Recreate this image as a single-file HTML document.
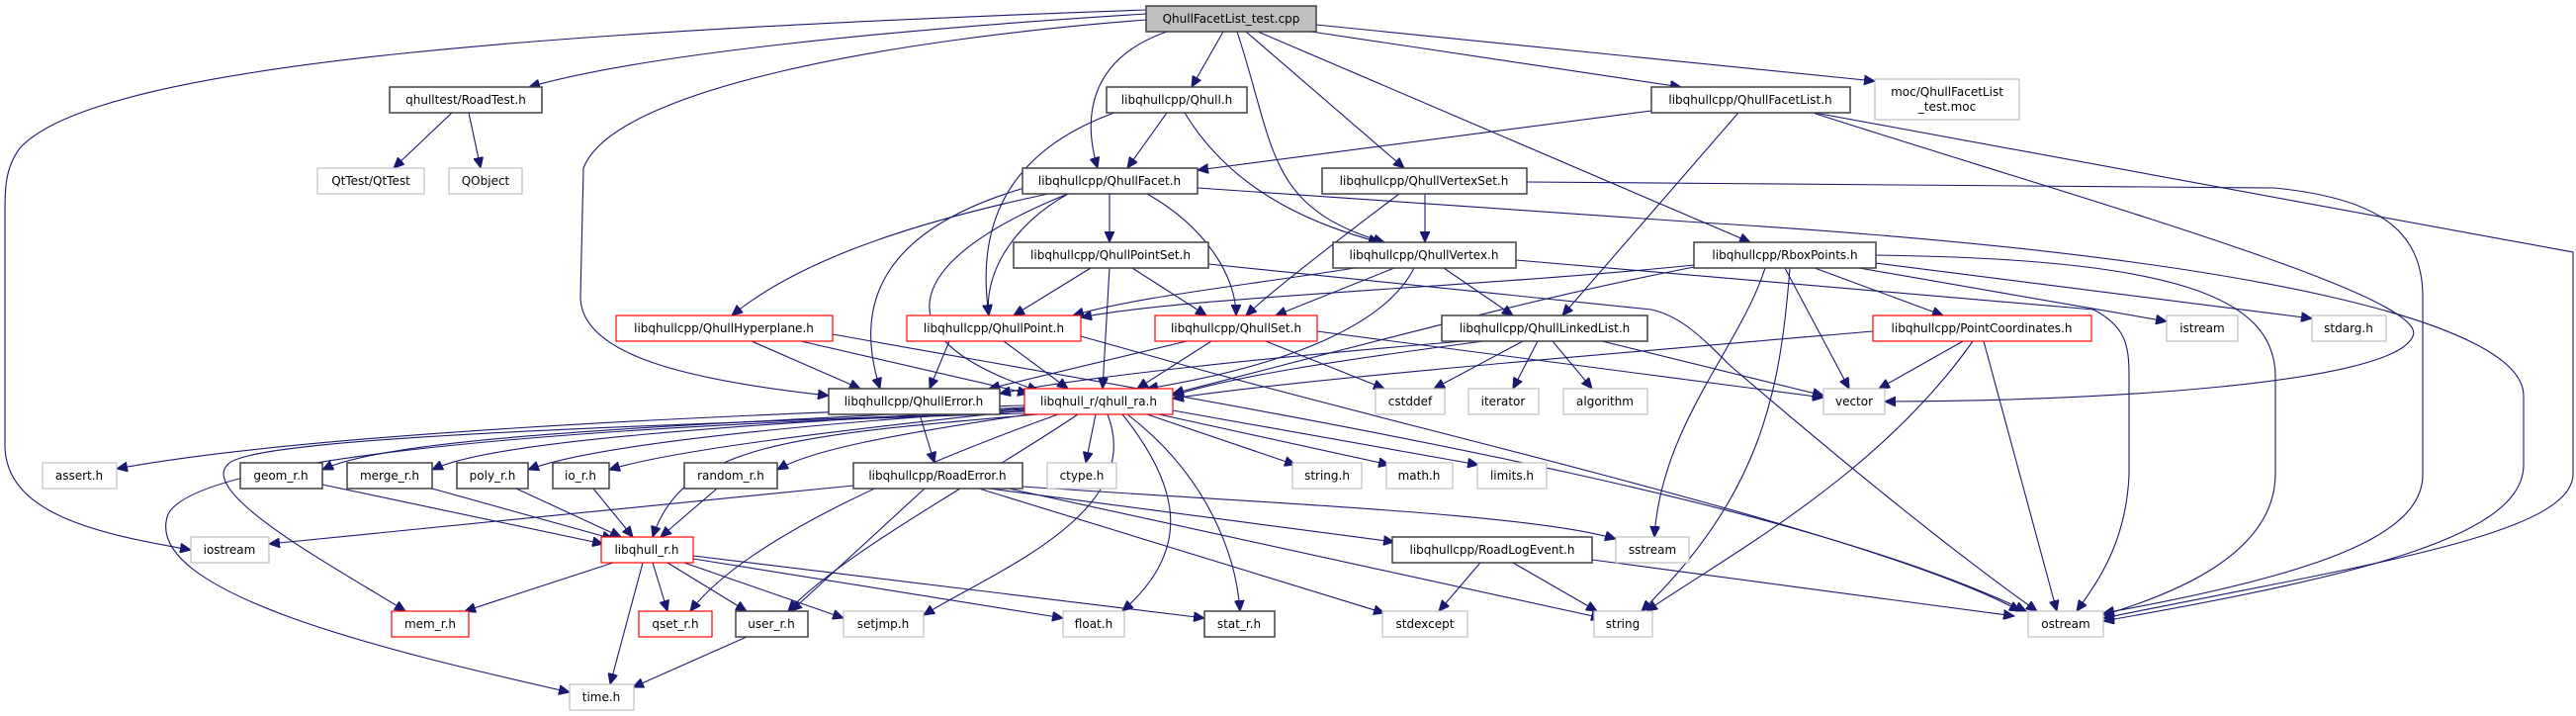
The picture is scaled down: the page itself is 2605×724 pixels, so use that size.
<!DOCTYPE html>
<html><head><meta charset="utf-8"><style>
html,body{margin:0;padding:0;background:#fff;}
svg{display:block;}
text{font-family:"DejaVu Sans","Liberation Sans",sans-serif;font-size:12px;fill:#000;}
.e{fill:none;stroke:#191970;stroke-width:1.1;}
.b{fill:#fff;stroke:#404040;stroke-width:1.5;}
.r{fill:#fff;stroke:#ff0000;stroke-width:1.2;}
.g{fill:#fff;stroke:#bfbfbf;stroke-width:1.2;}
</style></head><body>
<svg width="2605" height="724" viewBox="0 0 2605 724" xmlns="http://www.w3.org/2000/svg">
<defs><marker id="a" markerUnits="userSpaceOnUse" markerWidth="12" markerHeight="10" refX="11" refY="5" orient="auto"><path d="M0,0 L11,5 L0,10 z" fill="#191970" stroke="#191970"/></marker></defs>
<g class="e" marker-end="url(#a)">
<path d="M1159,14 C900,30 650,55 535,88"/>
<path d="M1159,10 C600,30 100,60 20,150 C5,170 5,190 5,220 L5,450 C5,520 100,540 193,556"/>
<path d="M1159,20 C900,40 620,90 590,170 L587,300 C587,360 700,385 838,400"/>
<path d="M1180,32 C1100,60 1095,120 1110,170"/>
<path d="M1237,32 L1205,88"/>
<path d="M1251,32 C1290,150 1280,210 1400,245"/>
<path d="M1260,32 L1420,170"/>
<path d="M1272,32 L1770,245"/>
<path d="M1326,32 L1700,88"/>
<path d="M1331,25 L1896,82"/>
<path d="M457,114 L398,170"/>
<path d="M474,114 L486,170"/>
<path d="M1833,114 C2100,200 2460,300 2440,340 C2420,390 2100,406 1906,406"/>
<path d="M1835,114 L2602,255 L2602,480 C2600,540 2400,570 2127,625"/>
<path d="M1670,112 L1211,172"/>
<path d="M1758,114 L1580,319"/>
<path d="M1180,114 L1140,170"/>
<path d="M1198,114 C1250,200 1340,230 1395,245"/>
<path d="M1127,114 C1000,160 990,250 1000,319"/>
<path d="M1441,196 L1441,245"/>
<path d="M1415,196 C1330,260 1280,300 1260,319"/>
<path d="M1544,184 L2300,190 C2400,200 2450,230 2450,300 L2450,480 C2450,540 2350,580 2127,620"/>
<path d="M1211,190 L1720,225 C2300,260 2552,330 2552,400 L2552,470 C2552,540 2400,580 2127,628"/>
<path d="M1897,258 C2200,262 2300,300 2301,380 L2301,480 C2300,560 2200,600 2127,622"/>
<path d="M1533,263 L2117,313 C2150,330 2153,350 2153,380 L2153,480 C2150,550 2120,590 2100,618"/>
<path d="M1222,267 L1670,313 C1700,320 1720,340 1750,370 C1820,430 1950,540 2060,618"/>
<path d="M1060,196 C900,230 800,270 740,319"/>
<path d="M1122,196 L1122,245"/>
<path d="M1080,196 C1020,230 995,280 1000,319"/>
<path d="M1160,196 C1220,230 1250,280 1250,319"/>
<path d="M1080,196 C920,260 880,340 1050,395"/>
<path d="M1036,190 C900,230 860,300 890,393"/>
<path d="M1103,271 L1025,319"/>
<path d="M1145,271 L1220,319"/>
<path d="M1122,271 L1115,393"/>
<path d="M1370,271 C1250,290 1150,300 1085,319"/>
<path d="M1410,271 L1290,319"/>
<path d="M1460,271 L1530,319"/>
<path d="M1430,271 C1400,330 1300,370 1160,393"/>
<path d="M1713,268 C1500,290 1200,300 1093,321"/>
<path d="M1713,270 C1560,300 1450,330 1186,398"/>
<path d="M1835,271 L1965,319"/>
<path d="M1880,271 L2191,325"/>
<path d="M1897,266 L2338,322"/>
<path d="M1805,271 L1870,393"/>
<path d="M1785,271 C1760,350 1680,430 1673,543"/>
<path d="M1810,271 C1800,400 1780,500 1660,618"/>
<path d="M760,345 L870,393"/>
<path d="M810,345 L1040,398"/>
<path d="M842,338 C1300,420 1800,500 2049,618"/>
<path d="M960,345 L940,393"/>
<path d="M1015,345 L1080,393"/>
<path d="M1093,340 L1200,370 C1450,440 1900,540 2043,618"/>
<path d="M1200,345 L1000,393"/>
<path d="M1225,345 L1150,393"/>
<path d="M1280,345 L1400,393"/>
<path d="M1332,335 L1844,402"/>
<path d="M1480,345 C1300,360 1100,380 1011,398"/>
<path d="M1500,345 C1350,365 1250,380 1186,400"/>
<path d="M1540,345 L1450,393"/>
<path d="M1555,345 L1530,393"/>
<path d="M1570,345 L1610,393"/>
<path d="M1620,345 L1844,400"/>
<path d="M1894,335 C1600,360 1300,385 1186,403"/>
<path d="M1985,345 L1900,393"/>
<path d="M1995,345 C1900,480 1750,560 1665,618"/>
<path d="M2006,345 L2080,618"/>
<path d="M930,419 L945,468"/>
<path d="M1036,410 C700,420 300,440 118,474"/>
<path d="M1036,412 C700,430 400,440 326,475"/>
<path d="M1036,413 C750,430 500,445 437,475"/>
<path d="M1036,414 C800,430 600,450 534,475"/>
<path d="M1036,415 C850,435 680,455 616,475"/>
<path d="M1040,419 C900,440 820,455 786,475"/>
<path d="M1050,419 C800,440 690,450 660,543"/>
<path d="M1036,416 C700,430 250,440 230,470 C200,500 350,580 410,618"/>
<path d="M1036,418 C600,430 200,460 170,520 C140,600 400,660 576,700"/>
<path d="M1070,419 C900,480 750,550 698,618"/>
<path d="M1090,419 C1000,480 850,560 797,618"/>
<path d="M1108,419 L1098,468"/>
<path d="M1120,419 C1160,520 1000,580 934,622"/>
<path d="M1135,419 C1200,500 1200,560 1135,618"/>
<path d="M1140,419 C1220,480 1250,560 1254,618"/>
<path d="M1160,419 L1310,470"/>
<path d="M1172,419 L1405,470"/>
<path d="M1186,415 L1495,470"/>
<path d="M863,491 L272,550"/>
<path d="M935,494 L800,618"/>
<path d="M1000,494 L1410,548"/>
<path d="M1034,492 C1300,510 1550,520 1634,545"/>
<path d="M990,494 L1400,620"/>
<path d="M1020,494 L1620,625"/>
<path d="M1497,569 L1455,618"/>
<path d="M1530,569 L1615,618"/>
<path d="M1610,566 L2037,623"/>
<path d="M326,490 L610,550"/>
<path d="M437,494 L620,545"/>
<path d="M522,494 L628,543"/>
<path d="M600,494 L640,543"/>
<path d="M725,494 L668,543"/>
<path d="M620,569 L470,618"/>
<path d="M660,569 L675,618"/>
<path d="M675,569 L755,618"/>
<path d="M650,569 L617,692"/>
<path d="M692,569 L853,625"/>
<path d="M701,565 L1075,625"/>
<path d="M701,562 L1218,625"/>
<path d="M755,644 L640,695"/>
</g>
<g>
<rect x="1159" y="6" width="172" height="26" fill="#bfbfbf" stroke="#404040" stroke-width="1.5"/><text x="1245" y="23" text-anchor="middle">QhullFacetList_test.cpp</text>
<rect class="b" x="394" y="88" width="154" height="26"/><text x="471" y="105" text-anchor="middle">qhulltest/RoadTest.h</text>
<rect class="g" x="321" y="170" width="108" height="26"/><text x="375" y="187" text-anchor="middle">QtTest/QtTest</text>
<rect class="g" x="454" y="170" width="74" height="26"/><text x="491" y="187" text-anchor="middle">QObject</text>
<rect class="b" x="1119" y="88" width="142" height="26"/><text x="1190" y="105" text-anchor="middle">libqhullcpp/Qhull.h</text>
<rect class="b" x="1670" y="88" width="201" height="26"/><text x="1770" y="105" text-anchor="middle">libqhullcpp/QhullFacetList.h</text>
<rect class="g" x="1896" y="80" width="146" height="41"/><text x="1969" y="97" text-anchor="middle">moc/QhullFacetList</text><text x="1969" y="112" text-anchor="middle">_test.moc</text>
<rect class="b" x="1034" y="170" width="177" height="26"/><text x="1122" y="187" text-anchor="middle">libqhullcpp/QhullFacet.h</text>
<rect class="b" x="1337" y="170" width="207" height="26"/><text x="1440" y="187" text-anchor="middle">libqhullcpp/QhullVertexSet.h</text>
<rect class="b" x="1025" y="245" width="197" height="26"/><text x="1123" y="262" text-anchor="middle">libqhullcpp/QhullPointSet.h</text>
<rect class="b" x="1348" y="245" width="185" height="26"/><text x="1440" y="262" text-anchor="middle">libqhullcpp/QhullVertex.h</text>
<rect class="b" x="1713" y="245" width="184" height="26"/><text x="1805" y="262" text-anchor="middle">libqhullcpp/RboxPoints.h</text>
<rect class="r" x="623" y="319" width="219" height="26"/><text x="732" y="336" text-anchor="middle">libqhullcpp/QhullHyperplane.h</text>
<rect class="r" x="917" y="319" width="176" height="26"/><text x="1005" y="336" text-anchor="middle">libqhullcpp/QhullPoint.h</text>
<rect class="r" x="1168" y="319" width="164" height="26"/><text x="1250" y="336" text-anchor="middle">libqhullcpp/QhullSet.h</text>
<rect class="b" x="1458" y="319" width="208" height="26"/><text x="1562" y="336" text-anchor="middle">libqhullcpp/QhullLinkedList.h</text>
<rect class="r" x="1894" y="319" width="221" height="26"/><text x="2004" y="336" text-anchor="middle">libqhullcpp/PointCoordinates.h</text>
<rect class="g" x="2191" y="319" width="72" height="26"/><text x="2227" y="336" text-anchor="middle">istream</text>
<rect class="g" x="2338" y="319" width="75" height="26"/><text x="2375" y="336" text-anchor="middle">stdarg.h</text>
<rect class="b" x="838" y="393" width="173" height="26"/><text x="924" y="410" text-anchor="middle">libqhullcpp/QhullError.h</text>
<rect class="r" x="1036" y="393" width="150" height="26"/><text x="1111" y="410" text-anchor="middle">libqhull_r/qhull_ra.h</text>
<rect class="g" x="1391" y="393" width="70" height="26"/><text x="1426" y="410" text-anchor="middle">cstddef</text>
<rect class="g" x="1485" y="393" width="71" height="26"/><text x="1520" y="410" text-anchor="middle">iterator</text>
<rect class="g" x="1581" y="393" width="85" height="26"/><text x="1623" y="410" text-anchor="middle">algorithm</text>
<rect class="g" x="1844" y="393" width="62" height="26"/><text x="1875" y="410" text-anchor="middle">vector</text>
<rect class="g" x="43" y="468" width="75" height="26"/><text x="80" y="485" text-anchor="middle">assert.h</text>
<rect class="b" x="243" y="468" width="83" height="26"/><text x="284" y="485" text-anchor="middle">geom_r.h</text>
<rect class="b" x="351" y="468" width="86" height="26"/><text x="394" y="485" text-anchor="middle">merge_r.h</text>
<rect class="b" x="462" y="468" width="72" height="26"/><text x="498" y="485" text-anchor="middle">poly_r.h</text>
<rect class="b" x="559" y="468" width="57" height="26"/><text x="587" y="485" text-anchor="middle">io_r.h</text>
<rect class="b" x="692" y="468" width="94" height="26"/><text x="739" y="485" text-anchor="middle">random_r.h</text>
<rect class="b" x="863" y="468" width="171" height="26"/><text x="948" y="485" text-anchor="middle">libqhullcpp/RoadError.h</text>
<rect class="g" x="1059" y="468" width="70" height="26"/><text x="1094" y="485" text-anchor="middle">ctype.h</text>
<rect class="g" x="1307" y="468" width="70" height="26"/><text x="1342" y="485" text-anchor="middle">string.h</text>
<rect class="g" x="1402" y="468" width="67" height="26"/><text x="1435" y="485" text-anchor="middle">math.h</text>
<rect class="g" x="1494" y="468" width="70" height="26"/><text x="1529" y="485" text-anchor="middle">limits.h</text>
<rect class="g" x="193" y="543" width="79" height="26"/><text x="232" y="560" text-anchor="middle">iostream</text>
<rect class="r" x="608" y="543" width="93" height="26"/><text x="654" y="560" text-anchor="middle">libqhull_r.h</text>
<rect class="b" x="1408" y="543" width="202" height="26"/><text x="1509" y="560" text-anchor="middle">libqhullcpp/RoadLogEvent.h</text>
<rect class="g" x="1634" y="543" width="74" height="26"/><text x="1671" y="560" text-anchor="middle">sstream</text>
<rect class="r" x="396" y="618" width="78" height="26"/><text x="435" y="635" text-anchor="middle">mem_r.h</text>
<rect class="r" x="646" y="618" width="74" height="26"/><text x="683" y="635" text-anchor="middle">qset_r.h</text>
<rect class="b" x="744" y="618" width="73" height="26"/><text x="780" y="635" text-anchor="middle">user_r.h</text>
<rect class="g" x="853" y="618" width="81" height="26"/><text x="893" y="635" text-anchor="middle">setjmp.h</text>
<rect class="g" x="1075" y="618" width="62" height="26"/><text x="1106" y="635" text-anchor="middle">float.h</text>
<rect class="b" x="1218" y="618" width="71" height="26"/><text x="1253" y="635" text-anchor="middle">stat_r.h</text>
<rect class="g" x="1398" y="618" width="86" height="26"/><text x="1441" y="635" text-anchor="middle">stdexcept</text>
<rect class="g" x="1612" y="618" width="59" height="26"/><text x="1641" y="635" text-anchor="middle">string</text>
<rect class="g" x="2051" y="618" width="76" height="26"/><text x="2089" y="635" text-anchor="middle">ostream</text>
<rect class="g" x="576" y="692" width="65" height="26"/><text x="608" y="709" text-anchor="middle">time.h</text>
</g>
</svg>
</body></html>
